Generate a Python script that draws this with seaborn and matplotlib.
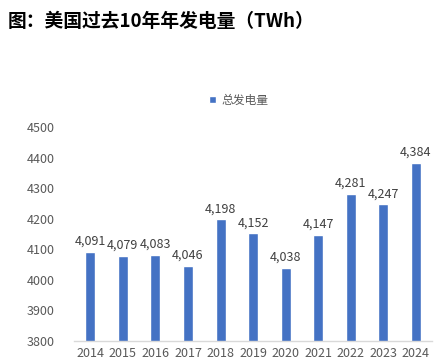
import matplotlib
matplotlib.use("Agg")
import matplotlib.pyplot as plt
import seaborn as sns
import pandas as pd

years = ["2014", "2015", "2016", "2017", "2018", "2019", "2020", "2021", "2022", "2023", "2024"]
values = [4091, 4079, 4083, 4046, 4198, 4152, 4038, 4147, 4281, 4247, 4384]
series_name = "总发电量"
title = "图：美国过去10年年发电量（TWh）"
yticks = [3800, 3900, 4000, 4100, 4200, 4300, 4400, 4500]

sns.set_theme(style="white")
plt.rcParams['font.family'] = ['Noto Sans CJK SC', 'DejaVu Sans']

df = pd.DataFrame({"year": years, "value": values, "series": series_name})

fig = plt.figure(figsize=(4.46, 3.62), dpi=100)
ax = fig.add_axes([0.166, 0.058, 0.803, 0.591])

sns.barplot(data=df, x="year", y="value", hue="series", palette=["#4472C4"],
            width=0.31, ax=ax, saturation=1)

ax.set_ylim(3800, 4500)
ax.set_xlim(-0.5, 10.5)
ax.set_yticks(yticks)
ax.set_yticklabels([str(t) for t in yticks])
ax.set_xlabel("")
ax.set_ylabel("")
for s in ["top", "right", "left"]:
    ax.spines[s].set_visible(False)
ax.spines["bottom"].set_color("#D9D9D9")
ax.spines["bottom"].set_linewidth(1)
ax.tick_params(axis="both", colors="#595959", labelsize=9, length=0)
ax.tick_params(axis="y", pad=14)
ax.tick_params(axis="x", pad=4)

for cont in ax.containers:
    ax.bar_label(cont, labels=[f"{v:,}" for v in values], padding=3,
                 fontsize=9, color="#404040")

leg = ax.legend(loc="center", bbox_to_anchor=(0.46, 1.126), frameon=False,
                fontsize=8.5, handlelength=0.6, handleheight=0.6, handletextpad=0.4)
for t in leg.get_texts():
    t.set_color("#595959")

fig.text(0.018, 0.94, title, fontsize=13.5, fontweight="bold", color="#000000",
         va="center", ha="left")

fig.savefig("out.png", dpi=100)
